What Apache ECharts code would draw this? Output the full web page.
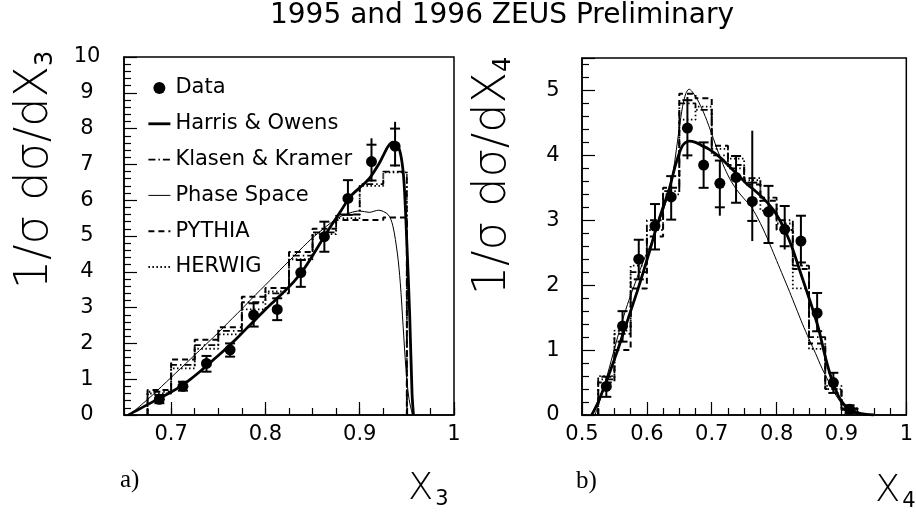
<!DOCTYPE html>
<html><head><meta charset="utf-8">
<script src="https://cdn.jsdelivr.net/npm/echarts@6/dist/echarts.min.js"></script>
<style>html,body{margin:0;padding:0;background:#fff}#c{width:916px;height:512px}</style>
</head><body><div id="c"></div>
<script>
const TITLE = '1995 and 1996 ZEUS Preliminary';
const LEGEND_NAMES = ['Data', 'Harris & Owens', 'Klasen & Kramer', 'Phase Space', 'PYTHIA', 'HERWIG'];
const X3_TICKS = [0.7, 0.8, 0.9, 1];

// ---------- panel a) : X3 ----------
const X3_EDGES = [0.675, 0.7, 0.725, 0.75, 0.775, 0.8, 0.825, 0.85, 0.875, 0.9, 0.925, 0.95];
const X3_DATA_X = [0.6875, 0.7125, 0.7375, 0.7625, 0.7875, 0.8125, 0.8375, 0.8625, 0.8875, 0.9125, 0.9375];
const X3_DATA_Y = [0.44, 0.8, 1.44, 1.82, 2.79, 2.95, 3.98, 4.98, 6.05, 7.08, 7.51];
const X3_ERR_LO = [0.33, 0.68, 1.21, 1.63, 2.47, 2.65, 3.58, 4.56, 5.59, 6.52, 6.94];
const X3_ERR_HI = [0.56, 0.93, 1.65, 2.0, 3.12, 3.26, 4.33, 5.4, 6.56, 7.73, 8.19];
const X3_STAT_LO = [0.33, 0.68, 1.21, 1.63, 2.47, 2.65, 3.58, 4.56, 5.59, 6.55, 6.97];
const X3_STAT_HI = [0.56, 0.93, 1.65, 2.0, 3.12, 3.26, 4.33, 5.4, 6.56, 7.55, 8.0];
const X3_PYTHIA = [0.7, 1.55, 2.1, 2.45, 3.3, 3.55, 4.55, 5.2, 5.45, 5.45, 5.52];
const X3_HERWIG = [0.6, 1.3, 1.85, 2.25, 2.95, 3.45, 4.35, 5.05, 5.5, 6.4, 6.78];
const X3_KK = [0.65, 1.4, 1.95, 2.35, 3.15, 3.4, 4.45, 5.1, 5.6, 6.45, 6.8];
const X3_HO = [[0.655,0],[0.66,0.08],[0.67,0.22],[0.68,0.36],[0.69,0.5],[0.70,0.64],[0.71,0.8],[0.72,0.99],[0.73,1.2],[0.74,1.43],[0.75,1.66],[0.76,1.9],[0.77,2.15],[0.78,2.42],[0.79,2.68],[0.80,2.95],[0.81,3.2],[0.82,3.45],[0.83,3.72],[0.84,4.05],[0.85,4.45],[0.86,4.88],[0.87,5.3],[0.88,5.7],[0.89,6.1],[0.90,6.35],[0.91,6.6],[0.92,7.0],[0.925,7.25],[0.93,7.5],[0.935,7.62],[0.94,7.55],[0.944,7.2],[0.947,6.5],[0.95,4.8],[0.953,2.8],[0.9555,0.6],[0.957,0]];
const X3_PS = [[0.656,0],[0.67,0.32],[0.68,0.55],[0.69,0.8],[0.70,1.05],[0.71,1.3],[0.72,1.55],[0.73,1.8],[0.74,2.05],[0.75,2.3],[0.76,2.57],[0.77,2.83],[0.78,3.1],[0.79,3.37],[0.80,3.63],[0.81,3.9],[0.82,4.17],[0.83,4.43],[0.84,4.7],[0.85,4.95],[0.86,5.17],[0.87,5.38],[0.88,5.55],[0.89,5.65],[0.90,5.7],[0.91,5.66],[0.92,5.72],[0.93,5.6],[0.935,5.3],[0.94,4.5],[0.943,3.7],[0.946,2.5],[0.949,1.3],[0.952,0.5],[0.956,0]];

// ---------- panel b) : X4 ----------
const X4_EDGES = [0.525, 0.55, 0.575, 0.6, 0.625, 0.65, 0.675, 0.7, 0.725, 0.75, 0.775, 0.8, 0.825, 0.85, 0.875, 0.9, 0.925];
const X4_DATA_X = [0.5375, 0.5625, 0.5875, 0.6125, 0.6375, 0.6625, 0.6875, 0.7125, 0.7375, 0.7625, 0.7875, 0.8125, 0.8375, 0.8625, 0.8875, 0.9125];
const X4_DATA_Y = [0.44, 1.37, 2.4, 2.91, 3.36, 4.42, 3.85, 3.57, 3.66, 3.29, 3.13, 2.86, 2.68, 1.57, 0.5, 0.09];
const X4_ERR_LO = [0.28, 1.13, 2.09, 2.55, 3.01, 3.94, 3.5, 3.07, 3.27, 2.68, 2.65, 2.55, 2.29, 1.29, 0.34, 0.03];
const X4_ERR_HI = [0.59, 1.6, 2.7, 3.25, 3.68, 4.9, 4.2, 3.92, 3.99, 4.38, 3.53, 3.22, 3.07, 1.88, 0.65, 0.15];
const X4_STAT_LO = [0.28, 1.13, 2.09, 2.55, 3.01, 4.0, 3.5, 3.2, 3.27, 2.99, 2.65, 2.6, 2.35, 1.29, 0.34, 0.03];
const X4_STAT_HI = [0.59, 1.6, 2.7, 3.25, 3.68, 4.85, 4.2, 3.92, 3.99, 3.58, 3.53, 3.22, 3.07, 1.88, 0.65, 0.15];
const X4_PYTHIA = [0.5, 1.0, 1.95, 2.75, 3.5, 4.95, 4.88, 4.15, 3.85, 3.55, 3.3, 2.85, 2.25, 1.1, 0.4, 0.08];
const X4_HERWIG = [0.6, 1.3, 2.3, 2.85, 3.4, 4.55, 4.75, 4.1, 3.95, 3.62, 3.15, 2.95, 1.95, 1.02, 0.4, 0.1];
const X4_KK = [0.55, 1.25, 2.2, 3.0, 3.45, 4.8, 4.7, 4.0, 3.8, 3.65, 3.35, 3.0, 2.3, 1.2, 0.45, 0.1];
const X4_HO = [[0.515,0],[0.525,0.2],[0.535,0.45],[0.545,0.72],[0.555,1.0],[0.565,1.3],[0.575,1.6],[0.585,1.9],[0.595,2.22],[0.605,2.55],[0.615,2.9],[0.625,3.2],[0.635,3.5],[0.645,3.88],[0.655,4.15],[0.665,4.22],[0.675,4.2],[0.685,4.15],[0.695,4.1],[0.705,4.03],[0.715,3.95],[0.725,3.85],[0.735,3.75],[0.745,3.65],[0.755,3.55],[0.765,3.47],[0.775,3.38],[0.785,3.28],[0.795,3.16],[0.805,3.0],[0.815,2.8],[0.825,2.55],[0.835,2.25],[0.845,1.95],[0.855,1.65],[0.865,1.32],[0.875,0.9],[0.885,0.55],[0.895,0.3],[0.905,0.15],[0.915,0.07],[0.93,0.02],[0.95,0]];
const X4_PS = [[0.52,0],[0.53,0.3],[0.54,0.65],[0.55,1.02],[0.56,1.38],[0.57,1.7],[0.58,1.98],[0.59,2.25],[0.60,2.5],[0.61,2.72],[0.62,3.0],[0.63,3.3],[0.64,3.72],[0.65,4.42],[0.655,4.75],[0.66,4.95],[0.665,5.02],[0.67,4.98],[0.68,4.82],[0.69,4.6],[0.70,4.33],[0.71,4.05],[0.72,3.8],[0.73,3.6],[0.74,3.45],[0.75,3.33],[0.76,3.22],[0.77,3.05],[0.78,2.85],[0.79,2.62],[0.80,2.38],[0.81,2.14],[0.82,1.9],[0.83,1.65],[0.84,1.4],[0.85,1.17],[0.86,0.95],[0.87,0.72],[0.88,0.52],[0.89,0.33],[0.90,0.18],[0.91,0.08],[0.92,0.03],[0.94,0]];

// ---------- helpers ----------
function histPath(edges, vals) {
  const pts = [[edges[0], 0]];
  vals.forEach((v, i) => { pts.push([edges[i], v]); pts.push([edges[i + 1], v]); });
  pts.push([edges[edges.length - 1], 0]);
  return pts;
}
function errRows(xs, ys, lo, hi, slo, shi) {
  return xs.map((x, i) => [x, ys[i], lo[i], hi[i], slo[i], shi[i]]);
}
function renderErr(params, api) {
  const x = api.value(0);
  const a = api.coord([x, api.value(2)]);
  const b = api.coord([x, api.value(3)]);
  const c1 = api.coord([x, api.value(4)]);
  const c2 = api.coord([x, api.value(5)]);
  const st = { stroke: '#000', lineWidth: 2 };
  const w = 5;
  return { type: 'group', children: [
    { type: 'line', shape: { x1: a[0], y1: a[1], x2: b[0], y2: b[1] }, style: st },
    { type: 'line', shape: { x1: c1[0] - w, y1: c1[1], x2: c1[0] + w, y2: c1[1] }, style: st },
    { type: 'line', shape: { x1: c2[0] - w, y1: c2[1], x2: c2[0] + w, y2: c2[1] }, style: st }
  ]};
}

const FONT = 'DejaVu Sans';
const STY = {
  ho: { color: '#000', width: 2.8, type: 'solid' },
  ps: { color: '#000', width: 1, type: 'solid' },
  kk: { color: '#000', width: 1.8, type: [7, 3, 1.5, 3] },
  py: { color: '#000', width: 2, type: [6, 4] },
  hw: { color: '#000', width: 1.8, type: [1.5, 2.5] }
};

function panelSeries(xi, yi, d) {
  const line = (name, data, ls, smooth) => ({
    name, type: 'line', xAxisIndex: xi, yAxisIndex: yi, data, showSymbol: false, symbol: 'none',
    smooth: smooth ? 0.3 : false, lineStyle: ls, itemStyle: { color: '#000' }, silent: true, animation: false, z: 2
  });
  return [
    line('PYTHIA', histPath(d.edges, d.py), STY.py, false),
    line('HERWIG', histPath(d.edges, d.hw), STY.hw, false),
    line('Klasen & Kramer', histPath(d.edges, d.kk), STY.kk, false),
    line('Phase Space', d.ps, STY.ps, true),
    line('Harris & Owens', d.ho, STY.ho, true),
    { name: '_err', type: 'custom', xAxisIndex: xi, yAxisIndex: yi, renderItem: renderErr,
      data: d.err, encode: { x: 0, y: 1 }, z: 4, animation: false, silent: true },
    { name: 'Data', type: 'scatter', xAxisIndex: xi, yAxisIndex: yi, symbol: 'circle', symbolSize: 11,
      itemStyle: { color: '#000', opacity: 1 }, data: d.x.map((x, i) => [x, d.y[i]]), z: 5, animation: false, silent: true }
  ];
}

const axisCommon = {
  axisLine: { show: true, lineStyle: { color: '#000', width: 1.5 } },
  splitLine: { show: false },
  axisLabel: { color: '#000', fontSize: 21, fontFamily: FONT },
  axisTick: { inside: true, length: 13, lineStyle: { color: '#000', width: 1.2 } },
  minorTick: { show: true, length: 7, lineStyle: { color: '#000', width: 1.2 } }
};

const hideSym = { opacity: 0, borderWidth: 0 };
const legLine = ls => ({ color: '#000', width: ls.width, type: ls.type, opacity: 1 });
const chart = echarts.init(document.getElementById('c'), null, { renderer: 'canvas' });
const option = {
  backgroundColor: '#fff',
  animation: false,
  grid: [
    { left: 124, top: 57, width: 330, height: 358, show: true, borderColor: '#000', borderWidth: 1.5, backgroundColor: 'transparent' },
    { left: 582, top: 58, width: 332, height: 357, show: true, borderColor: '#000', borderWidth: 1.5, backgroundColor: 'transparent' }
  ],
  xAxis: [
    Object.assign({}, axisCommon, { type: 'value', gridIndex: 0, min: 0.65, max: 1, position: 'bottom',
      axisLabel: Object.assign({}, axisCommon.axisLabel, { margin: 9, customValues: X3_TICKS, formatter: v => String(+v.toFixed(2)) }),
      axisTick: Object.assign({}, axisCommon.axisTick, { customValues: X3_TICKS }),
      minorTick: { show: false } }),
    Object.assign({}, axisCommon, { type: 'value', gridIndex: 0, min: 0.65, max: 1, interval: 0.025, position: 'bottom',
      axisLine: { show: false }, axisLabel: { show: false },
      axisTick: { inside: true, length: 7, lineStyle: { color: '#000', width: 1.2 } }, minorTick: { show: false } }),
    Object.assign({}, axisCommon, { type: 'value', gridIndex: 1, min: 0.5, max: 1, interval: 0.1, position: 'bottom',
      axisLabel: Object.assign({}, axisCommon.axisLabel, { margin: 9, formatter: v => String(+v.toFixed(2)) }),
      minorTick: Object.assign({}, axisCommon.minorTick, { splitNumber: 4 }) })
  ],
  yAxis: [
    Object.assign({}, axisCommon, { type: 'value', gridIndex: 0, min: 0, max: 10, interval: 1,
      axisLabel: Object.assign({}, axisCommon.axisLabel, { margin: 37, align: 'center' }),
      minorTick: Object.assign({}, axisCommon.minorTick, { splitNumber: 5 }) }),
    Object.assign({}, axisCommon, { type: 'value', gridIndex: 1, min: 0, max: 5.5, interval: 1,
      axisLabel: Object.assign({}, axisCommon.axisLabel, { margin: 29, align: 'center', showMaxLabel: false }),
      minorTick: Object.assign({}, axisCommon.minorTick, { splitNumber: 5 }) })
  ],
  legend: {
    data: [
      { name: LEGEND_NAMES[0] },
      { name: LEGEND_NAMES[1], itemStyle: hideSym, lineStyle: legLine(STY.ho) },
      { name: LEGEND_NAMES[2], itemStyle: hideSym, lineStyle: legLine(STY.kk) },
      { name: LEGEND_NAMES[3], itemStyle: hideSym, lineStyle: legLine(STY.ps) },
      { name: LEGEND_NAMES[4], itemStyle: hideSym, lineStyle: legLine(STY.py) },
      { name: LEGEND_NAMES[5], itemStyle: hideSym, lineStyle: legLine(STY.hw) }
    ],
    orient: 'vertical', left: 142, top: 72, itemWidth: 22, itemHeight: 12, itemGap: 13.8,
    selectedMode: false, textStyle: { color: '#000', fontSize: 21, fontFamily: FONT, lineHeight: 22 }
  },
  series: [].concat(
    panelSeries(0, 0, { edges: X3_EDGES, py: X3_PYTHIA, hw: X3_HERWIG, kk: X3_KK, ps: X3_PS, ho: X3_HO,
      err: errRows(X3_DATA_X, X3_DATA_Y, X3_ERR_LO, X3_ERR_HI, X3_STAT_LO, X3_STAT_HI), x: X3_DATA_X, y: X3_DATA_Y }),
    panelSeries(2, 1, { edges: X4_EDGES, py: X4_PYTHIA, hw: X4_HERWIG, kk: X4_KK, ps: X4_PS, ho: X4_HO,
      err: errRows(X4_DATA_X, X4_DATA_Y, X4_ERR_LO, X4_ERR_HI, X4_STAT_LO, X4_STAT_HI), x: X4_DATA_X, y: X4_DATA_Y })
  ),
  graphic: [
    { type: 'text', x: 502, y: 16, style: { text: TITLE, font: '28px "DejaVu Sans"', fill: '#000', align: 'center', verticalAlign: 'middle' } },
    { type: 'text', x: 35, y: 170, rotation: Math.PI / 2, style: { text: '1/σ dσ/dX{s|3}', fontSize: 46, fontFamily: FONT, fontWeight: 200, fill: '#000', align: 'center', verticalAlign: 'middle',
      rich: { s: { fontSize: 24, fontFamily: FONT, verticalAlign: 'bottom', padding: [18, 0, 0, 0] } } } },
    { type: 'text', x: 493, y: 176, rotation: Math.PI / 2, style: { text: '1/σ dσ/dX{s|4}', fontSize: 46, fontFamily: FONT, fontWeight: 200, fill: '#000', align: 'center', verticalAlign: 'middle',
      rich: { s: { fontSize: 24, fontFamily: FONT, verticalAlign: 'bottom', padding: [18, 0, 0, 0] } } } },
    { type: 'text', x: 408, y: 489, style: { text: 'X{s|3}', fontSize: 37, fontFamily: FONT, fontWeight: 200, fill: '#000', align: 'left', verticalAlign: 'middle',
      rich: { s: { fontSize: 21, fontFamily: FONT, padding: [22, 0, 0, 2] } } } },
    { type: 'text', x: 875, y: 491, style: { text: 'X{s|4}', fontSize: 37, fontFamily: FONT, fontWeight: 200, fill: '#000', align: 'left', verticalAlign: 'middle',
      rich: { s: { fontSize: 21, fontFamily: FONT, padding: [22, 0, 0, 2] } } } },
    { type: 'text', x: 120, y: 480, style: { text: 'a)', font: '25px "Liberation Serif"', fill: '#000', align: 'left', verticalAlign: 'middle' } },
    { type: 'text', x: 576, y: 481, style: { text: 'b)', font: '25px "Liberation Serif"', fill: '#000', align: 'left', verticalAlign: 'middle' } }
  ]
};
chart.setOption(option);
</script>
</body></html>
